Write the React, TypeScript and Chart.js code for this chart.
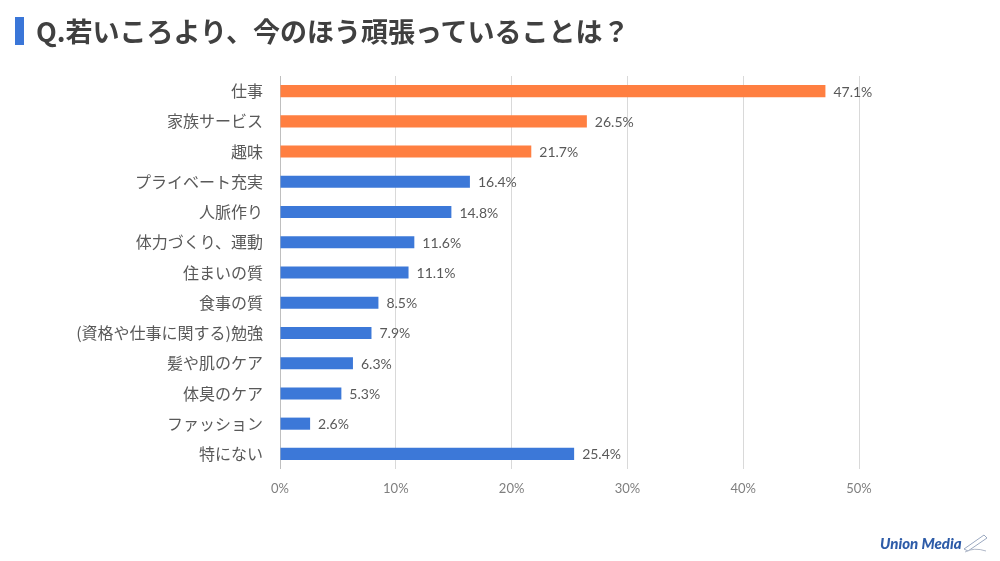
import React, { useEffect, useRef } from "react";
import { Chart, registerables } from "chart.js";

Chart.register(...registerables);

const TITLE = "Q.若いころより、今のほう頑張っていることは？";
const categories = [
  "仕事",
  "家族サービス",
  "趣味",
  "プライベート充実",
  "人脈作り",
  "体力づくり、運動",
  "住まいの質",
  "食事の質",
  "(資格や仕事に関する)勉強",
  "髪や肌のケア",
  "体臭のケア",
  "ファッション",
  "特にない",
];
const values = [47.1, 26.5, 21.7, 16.4, 14.8, 11.6, 11.1, 8.5, 7.9, 6.3, 5.3, 2.6, 25.4];
const highlightCount = 3;
const xTicks = [0, 10, 20, 30, 40, 50];

const ORANGE = "#FF7F41";
const BLUE = "#3C78D8";
const NUM_FONT = "Lato, 'Noto Sans CJK JP', sans-serif";
const JP_FONT = "'Noto Sans CJK JP', sans-serif";

const valueLabels = {
  id: "valueLabels",
  afterDatasetsDraw(chart: any) {
    const ctx = chart.ctx;
    const meta = chart.getDatasetMeta(0);
    ctx.save();
    ctx.font = `14px ${NUM_FONT}`;
    ctx.fillStyle = "#595959";
    ctx.textAlign = "left";
    ctx.textBaseline = "middle";
    meta.data.forEach((bar: any, i: number) => {
      ctx.fillText(values[i].toFixed(1) + "%", bar.x + 8, bar.y + 1);
    });
    ctx.restore();
  },
};

export default function App() {
  const ref = useRef<HTMLCanvasElement | null>(null);
  useEffect(() => {
    if (!ref.current) return;
    const chart = new Chart(ref.current, {
      type: "bar",
      data: {
        labels: categories,
        datasets: [
          {
            data: values,
            backgroundColor: values.map((_, i) => (i < highlightCount ? ORANGE : BLUE)),
            barPercentage: 0.8,
            categoryPercentage: 0.5,
          },
        ],
      },
      options: {
        indexAxis: "y",
        animation: false,
        responsive: false,
        maintainAspectRatio: false,
        layout: { padding: { top: 76, right: 141, left: 0, bottom: 0 } },
        plugins: { legend: { display: false }, tooltip: { enabled: false }, title: { display: false } },
        scales: {
          x: {
            min: 0,
            max: 50,
            afterFit: (s: any) => {
              s.height = 92;
            },
            afterBuildTicks: (s: any) => {
              s.ticks = xTicks.map((v) => ({ value: v }));
            },
            ticks: {
              padding: 12,
              color: "#7f7f7f",
              font: { family: NUM_FONT, size: 13 },
              callback: (v: any) => v + "%",
            },
            grid: {
              color: (c: any) => (c.tick && c.tick.value === 0 ? "#bfbfbf" : "#d9d9d9"),
              drawTicks: false,
            },
            border: { display: false },
          },
          y: {
            afterFit: (s: any) => {
              s.width = 280;
            },
            ticks: {
              padding: 17,
              color: "#595959",
              font: { family: JP_FONT, size: 16 },
            },
            grid: { display: false, drawTicks: false },
            border: { display: false },
          },
        },
      },
      plugins: [valueLabels],
    });
    return () => chart.destroy();
  }, []);

  return (
    <div style={{ position: "absolute", left: 0, top: 0, width: 1000, height: 561, background: "#fff", overflow: "hidden" }}>
      <canvas ref={ref} width={1000} height={561} style={{ position: "absolute", left: 0, top: 0 }} />
      <div style={{ position: "absolute", left: 15, top: 17, width: 9, height: 28, background: "#3A76D8" }} />
      <div
        style={{
          position: "absolute",
          left: 36,
          top: 12,
          fontFamily: JP_FONT,
          fontWeight: 700,
          fontSize: 27,
          lineHeight: "38px",
          color: "#404040",
          whiteSpace: "nowrap",
        }}
      >
        {TITLE}
      </div>
      <div
        style={{
          position: "absolute",
          left: 880,
          top: 533,
          fontFamily: "Lato, sans-serif",
          fontWeight: 900,
          fontStyle: "italic",
          fontSize: 15,
          lineHeight: "20px",
          color: "#2E5CA8",
          whiteSpace: "nowrap",
        }}
      >
        Union Media
      </div>
      <svg style={{ position: "absolute", left: 962, top: 531 }} width={28} height={24}>
        <path d="M2 18 L22 4 L25 7 L6 20 Z" fill="none" stroke="#9aa8c0" strokeWidth={1} />
        <path d="M3 21 Q12 16 24 20" fill="none" stroke="#b0b8c8" strokeWidth={1} />
      </svg>
    </div>
  );
}
